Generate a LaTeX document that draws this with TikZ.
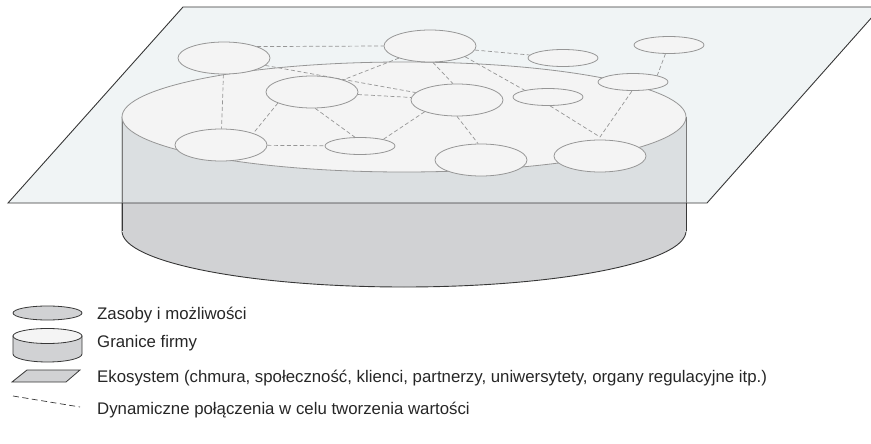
\documentclass[tikz,border=0pt]{standalone}
\usepackage{fontspec}
\setmainfont{Liberation Sans}
\usetikzlibrary{shapes.geometric}
\definecolor{planefill}{RGB}{228,235,237}
\definecolor{sidegray}{RGB}{209,210,212}
\definecolor{topfill}{RGB}{244,244,244}
\definecolor{edgegray}{RGB}{150,150,150}
\definecolor{darkline}{RGB}{55,55,55}
\begin{document}
\begin{tikzpicture}[x=1pt,y=-1pt,
  res/.style={ellipse, draw=edgegray, fill=topfill, line width=0.8pt, inner sep=0pt},
  bigres/.style={res, minimum width=92pt, minimum height=32pt},
  smallres/.style={res, minimum width=70pt, minimum height=17pt},
  link/.style={draw=edgegray, dash pattern=on 4pt off 2.5pt, line width=0.7pt},
  legtext/.style={anchor=base west, inner sep=0pt, font=\fontsize{16.8}{20}\selectfont, text=black!85}]
\useasboundingbox (0,0) rectangle (871,444);
\clip (0,0) rectangle (871,444);

% cylinder side
\filldraw[fill=sidegray, draw=darkline, line width=0.9pt]
  (122,117) -- (122,231) arc[start angle=180, end angle=0, x radius=282, y radius=56] -- (686,117);
\fill[sidegray] (122,117) rectangle (686,232);

% ecosystem plane
\fill[planefill, fill opacity=0.55] (183,7) -- (881,7) -- (707,203) -- (8,203) -- cycle;
\draw[darkline, line width=0.9pt] (183,7) -- (881,7) -- (707,203) -- (8,203) -- cycle;
\draw[edgegray!80!black, line width=0.8pt] (122,117) -- (122,203);
\draw[edgegray!80!black, line width=0.8pt] (686,117) -- (686,203);
\draw[darkline, line width=0.9pt] (122,203) -- (122,231);
\draw[darkline, line width=0.9pt] (686,203) -- (686,231);

% top face
\node[ellipse, draw=edgegray, fill=topfill, line width=0.8pt, inner sep=0pt,
      minimum width=564pt, minimum height=110pt] (topface) at (404,117) {};

% resources
\node[bigres]   (E1)  at (224,58)  {};
\node[bigres]   (E2)  at (430,46)  {};
\node[smallres] (E3)  at (563,58)  {};
\node[smallres] (E4)  at (669,45)  {};
\node[smallres] (E5)  at (633,82)  {};
\node[bigres]   (E6)  at (312,92)  {};
\node[bigres]   (E7)  at (457,100) {};
\node[smallres] (E8)  at (548,97)  {};
\node[bigres]   (E9)  at (221,145) {};
\node[smallres] (E10) at (360,146) {};
\node[bigres]   (E11) at (481,160) {};
\node[bigres]   (E12) at (600,156) {};
\coordinate (apex) at (600,137);

% dynamic links
\draw[link] (E1.19) -- (E2.west);
\draw[link] (E1) -- (E7);
\draw[link] (E1) -- (E9);
\draw[link] (E2) -- (E6);
\draw[link] (E2.-80) -- (E7.104);
\draw[link] (E2) -- (E3);
\draw[link] (E2.-17) -- (E8.164);
\draw[link] (E6) -- (E7);
\draw[link] (E6.-162) -- (E9.20);
\draw[link] (E6.-79) -- (E10.120);
\draw[link] (E7.-160) -- (E10.16);
\draw[link] (E7.-90) -- (E11.100);
\draw[link] (E9) -- (E10);
\draw[link] (E8.-77) -- (apex) -- (E5.-96);
\draw[link] (E4.-112) -- (E5.15);

% legend
\node[ellipse, draw=darkline, fill=sidegray, line width=0.8pt, inner sep=0pt,
      minimum width=69pt, minimum height=14pt] (legres) at (47.5,313) {};
\filldraw[fill=sidegray, draw=darkline, line width=0.8pt]
  (13,336) -- (13,354) arc[start angle=180, end angle=0, x radius=34.5, y radius=8] -- (82,336) -- cycle;
\node[ellipse, draw=darkline, fill=topfill, line width=0.8pt, inner sep=0pt,
      minimum width=69pt, minimum height=15pt] (legcyl) at (47.5,336) {};
\filldraw[fill=sidegray, draw=darkline, line width=0.8pt]
  (27,370) -- (80,370) -- (66,382) -- (12,382) -- cycle;
\coordinate (dashA) at (13,396);
\coordinate (dashB) at (80,407);
\draw[darkline, dash pattern=on 6pt off 3.5pt, line width=0.7pt] (dashA) -- (dashB);

\node[legtext] (t1) at (97,319) {Zasoby i możliwości};
\node[legtext] (t2) at (97,347) {Granice firmy};
\node[legtext] (t3) at (97,382) {Ekosystem (chmura, społeczność, klienci, partnerzy, uniwersytety, organy regulacyjne itp.)};
\node[legtext] (t4) at (97,414) {Dynamiczne połączenia w celu tworzenia wartości};
\end{tikzpicture}
\end{document}
